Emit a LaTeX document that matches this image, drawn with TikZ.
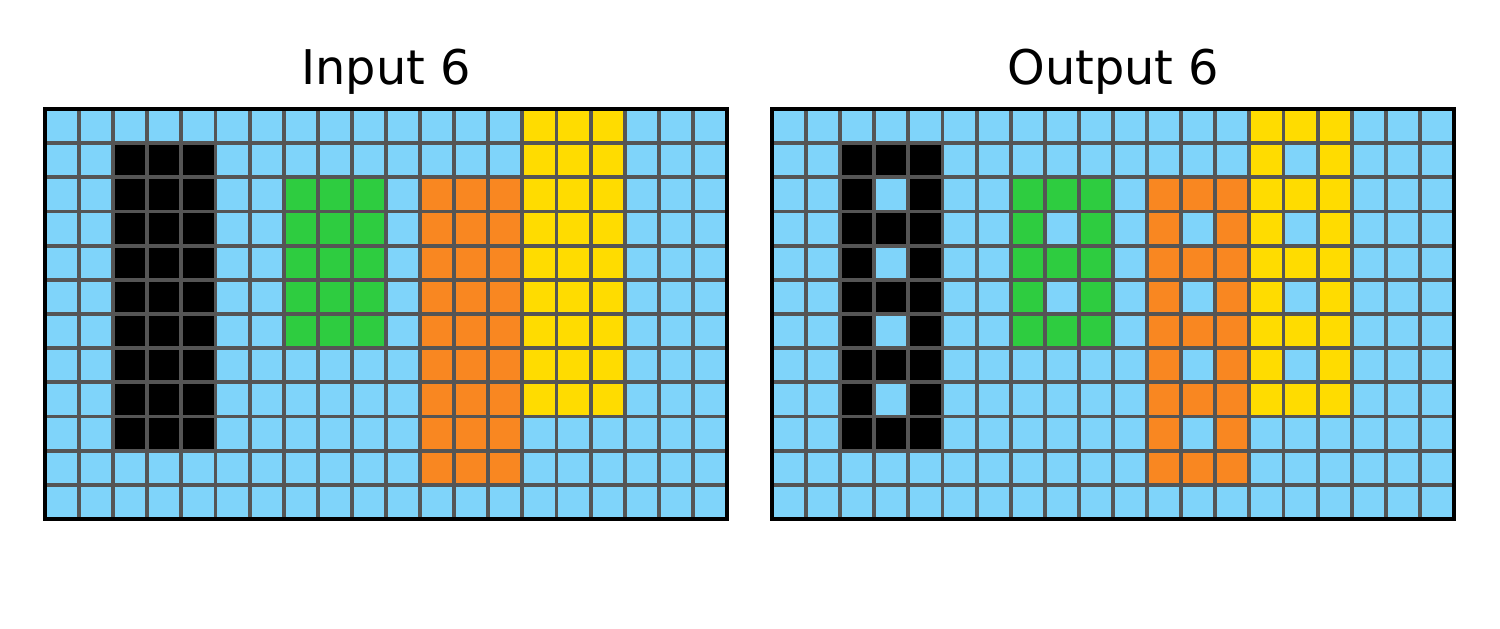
\documentclass[tikz,border=0pt]{standalone}
\usepackage{fontspec}
\setmainfont{DejaVu Sans}
\usepackage{tikz}
\usetikzlibrary{positioning}
\definecolor{ArcSky}   {RGB}{127, 212, 250}
\definecolor{ArcGreen} {RGB}{ 46, 204,  64}
\definecolor{ArcOrange}{RGB}{249, 135,  33}
\definecolor{ArcYellow}{RGB}{255, 220,   0}
\definecolor{ArcLine}  {RGB}{ 85,  85,  85}

\tikzset{
  panel/.style={x=0.341cm, y=0.34167cm},
  gridline/.style={draw=ArcLine, line width=1.1pt},
  frame/.style={draw=black, line width=1pt},
  paneltitle/.style={font=\fontsize{13.6}{16}\selectfont, anchor=base, inner sep=0pt},
}

% colour blocks shared by both panels (cell units, origin bottom left)
\newcommand{\arcblocks}{
  \fill[ArcSky]    (0,0)  rectangle (20,12);
  \fill[black]     (2,2)  rectangle (5,11);
  \fill[ArcGreen]  (7,5)  rectangle (10,10);
  \fill[ArcOrange] (11,1) rectangle (14,10);
  \fill[ArcYellow] (14,3) rectangle (17,12);
}
% grid lines and outer frame
\newcommand{\arclines}{
  \foreach \i in {1,...,19}
    \draw[gridline] (\i,0) -- (\i,12);
  \foreach \j in {1,...,11}
    \draw[gridline] (0,\j) -- (20,\j);
  \draw[frame] (0,0) rectangle (20,12);
}

\begin{document}
\begin{tikzpicture}
  \useasboundingbox[fill=white] (0,0) rectangle (15,6.29);

  \node[paneltitle] (intitle)  at (3.86,5.44)   {Input 6};
  \node[paneltitle] (outtitle) at (11.135,5.44) {Output 6};

  % input
  \begin{scope}[panel, shift={(0.45cm,1.10cm)}]
    \arcblocks
    \arclines
  \end{scope}

  % output: every other row of each block hollowed out
  \begin{scope}[panel, shift={(7.72cm,1.10cm)}]
    \arcblocks
    \foreach \c/\r in {3/9, 3/7, 3/5, 3/3,
                       8/8, 8/6,
                       12/8, 12/6, 12/4, 12/2,
                       15/10, 15/8, 15/6, 15/4}
      \fill[ArcSky] (\c,\r) rectangle ++(1,1);
    \arclines
  \end{scope}
\end{tikzpicture}
\end{document}
